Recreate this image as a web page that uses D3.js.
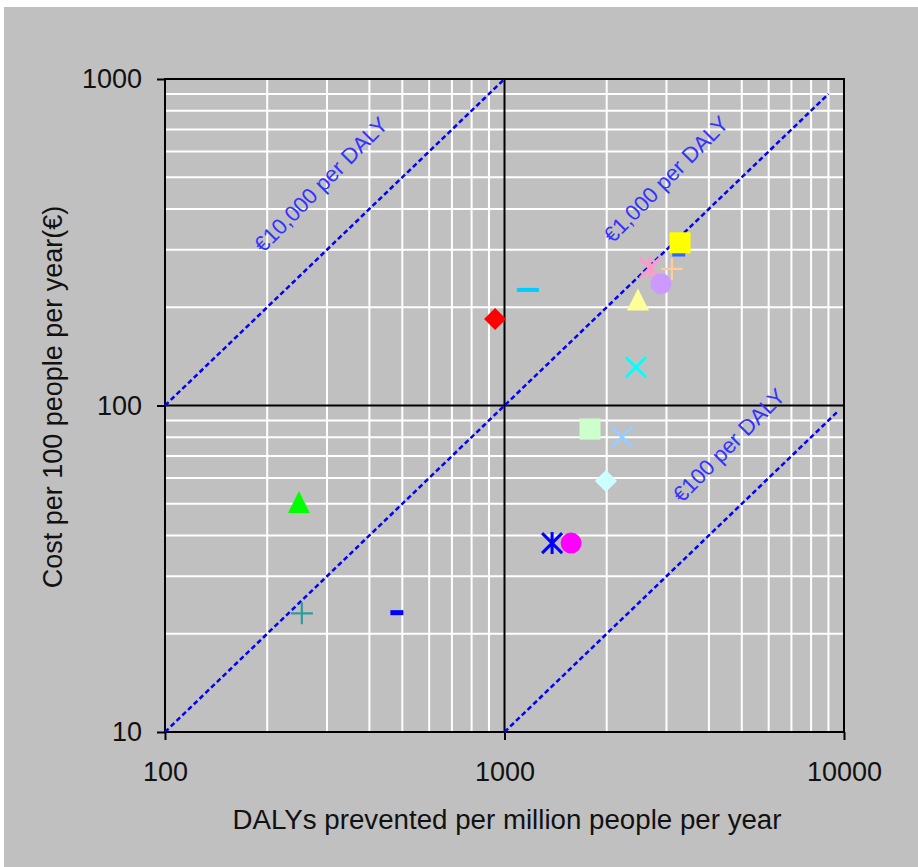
<!DOCTYPE html>
<html>
<head>
<meta charset="utf-8">
<script src="https://cdn.jsdelivr.net/npm/d3@7"></script>
<style>
  html, body { margin: 0; padding: 0; background: #ffffff; }
  svg { display: block; }
  text { font-family: "Liberation Sans", Arial, sans-serif; }
</style>
</head>
<body>
<svg id="chart" width="918" height="867"></svg>
<script>
// ---------- DATA ----------
// DALYs prevented per million people per year
const dalys = [938, 1172, 3260, 3289, 2683, 3112, 2891, 2472, 2438, 1786, 2218, 1990, 1381, 1571, 248, 253, 482];
// Cost per 100 people per year (€)
const costs = [184, 226, 291, 315, 264, 262, 236, 211, 131, 84.7, 80.1, 58.7, 37.9, 37.9, 50.6, 23.1, 23.2];
// Marker shapes and colours (style)
const shapes = ["diamond", "dash", "dashSmall", "square", "star", "plus", "circle", "triangle", "x", "square", "x", "diamond", "star", "circle", "triangle", "plus", "dashSmall"];
const colors = ["#ff0000", "#00ccff", "#3366ff", "#ffff00", "#ff99cc", "#ffcc99", "#cc99ff", "#ffff99", "#00ffff", "#ccffcc", "#99ccff", "#ccffff", "#0000ff", "#ff00ff", "#00ff00", "#339999", "#0000ff"];

// Cost-effectiveness reference lines (€ per DALY)
const refCostPerDaly = [10000, 1000, 100];
const refLabels = ["€10,000 per DALY", "€1,000 per DALY", "€100 per DALY"];
const refStart = [100, 100, 1000];
const refEnd = [1000, 9000, 9600];
const refLabelAt = [288, 2990, 4581];

// Axis ticks
const xTicks = [100, 1000, 10000];
const yTicks = [10, 100, 1000];
const xMinor = [200, 300, 400, 500, 600, 700, 800, 900, 2000, 3000, 4000, 5000, 6000, 7000, 8000, 9000];
const yMinor = [20, 30, 40, 50, 60, 70, 80, 90, 200, 300, 400, 500, 600, 700, 800, 900];
const xMajorGrid = [1000];
const yMajorGrid = [100];

const xTitle = "DALYs prevented per million people per year";
const yTitle = "Cost per 100 people per year(€)";

// ---------- LAYOUT ----------
const svg = d3.select("#chart");
const L = 165, R = 844, T = 79, B = 732;
const x = d3.scaleLog().domain([100, 10000]).range([L, R]);
const y = d3.scaleLog().domain([10, 1000]).range([B, T]);

svg.append("rect").attr("x", 4).attr("y", 7).attr("width", 914).attr("height", 860).attr("fill", "#c0c0c0");

// minor grid
const grid = svg.append("g");
grid.selectAll(".gx").data(xMinor).enter().append("line")
  .attr("x1", d => x(d)).attr("x2", d => x(d)).attr("y1", T).attr("y2", B)
  .attr("stroke", "#ffffff").attr("stroke-width", 2);
grid.selectAll(".gy").data(yMinor).enter().append("line")
  .attr("y1", d => y(d)).attr("y2", d => y(d)).attr("x1", L).attr("x2", R)
  .attr("stroke", "#ffffff").attr("stroke-width", 2);
grid.selectAll(".mx").data(xMajorGrid).enter().append("line")
  .attr("x1", d => x(d)).attr("x2", d => x(d)).attr("y1", T).attr("y2", B)
  .attr("stroke", "#000000").attr("stroke-width", 2);
grid.selectAll(".my").data(yMajorGrid).enter().append("line")
  .attr("y1", d => y(d)).attr("y2", d => y(d)).attr("x1", L).attr("x2", R)
  .attr("stroke", "#000000").attr("stroke-width", 2);

// frame
svg.append("rect").attr("x", L).attr("y", T).attr("width", R - L).attr("height", B - T)
  .attr("fill", "none").attr("stroke", "#000000").attr("stroke-width", 2);

// axes
const yAxis = d3.axisLeft(y).tickValues(yTicks).tickFormat(d3.format("d")).tickSize(8).tickSizeOuter(0).tickPadding(15);
const gy = svg.append("g").attr("transform", `translate(${L},0)`).call(yAxis);
const xAxis = d3.axisBottom(x).tickValues(xTicks).tickFormat(d3.format("d")).tickSize(8).tickSizeOuter(0).tickPadding(22);
const gx = svg.append("g").attr("transform", `translate(0,${B})`).call(xAxis);
[gx, gy].forEach(g => {
  g.select(".domain").remove();
  g.selectAll(".tick line").attr("stroke", "#000").attr("stroke-width", 2);
  g.selectAll(".tick text").attr("fill", "#111").style("font-size", "27px")
    .style("font-family", '"Liberation Sans", Arial, sans-serif');
});

// reference lines
const refG = svg.append("g");
refCostPerDaly.forEach((c, i) => {
  const f = v => v * c / 10000;
  refG.append("line")
    .attr("x1", x(refStart[i])).attr("y1", y(f(refStart[i])))
    .attr("x2", x(refEnd[i])).attr("y2", y(f(refEnd[i])))
    .attr("stroke", "#0000ff").attr("stroke-width", 2.5).attr("stroke-dasharray", "5,3");
  const px = x(refLabelAt[i]), py = y(f(refLabelAt[i])) - 71;
  const ang = Math.atan2(y(f(refEnd[i])) - y(f(refStart[i])), x(refEnd[i]) - x(refStart[i])) * 180 / Math.PI;
  refG.append("text")
    .attr("transform", `translate(${px},${py}) rotate(${ang - 1.5})`)
    .attr("text-anchor", "middle").attr("dominant-baseline", "central")
    .attr("fill", "#3333ff").style("font-size", "22px")
    .text(refLabels[i]);
});

// markers
const ms = 11;
function drawMarker(g, shape, color) {
  switch (shape) {
    case "diamond":
      g.append("path").attr("d", `M0,${-ms}L${ms},0L0,${ms}L${-ms},0Z`).attr("fill", color); break;
    case "square":
      g.append("rect").attr("x", -10.5).attr("y", -10.5).attr("width", 21).attr("height", 21).attr("fill", color); break;
    case "triangle":
      g.append("path").attr("d", `M0,${-ms}L${ms},${ms}L${-ms},${ms}Z`).attr("fill", color); break;
    case "circle":
      g.append("circle").attr("r", 10.5).attr("fill", color); break;
    case "x":
      g.append("path").attr("d", `M-10,-10L10,10M-10,10L10,-10`).attr("stroke", color).attr("stroke-width", 3).attr("fill", "none"); break;
    case "plus":
      g.append("path").attr("d", `M-11,0L11,0M0,-11L0,11`).attr("stroke", color).attr("stroke-width", 2.2).attr("fill", "none"); break;
    case "star":
      g.append("path").attr("d", `M-10,-10L10,10M-10,10L10,-10M0,-11L0,11`).attr("stroke", color).attr("stroke-width", 3).attr("fill", "none"); break;
    case "dash":
      g.append("rect").attr("x", -11).attr("y", -2).attr("width", 22).attr("height", 4).attr("fill", color); break;
    case "dashSmall":
      g.append("rect").attr("x", -6.5).attr("y", -2.5).attr("width", 13).attr("height", 5).attr("fill", color); break;
  }
}
const mg = svg.append("g");
dalys.forEach((d, i) => {
  const g = mg.append("g").attr("transform", `translate(${x(d)},${y(costs[i])})`);
  drawMarker(g, shapes[i], colors[i]);
});

// titles
svg.append("text").attr("x", 507).attr("y", 829).attr("text-anchor", "middle")
  .attr("fill", "#111").style("font-size", "27px")
  .attr("textLength", 549).attr("lengthAdjust", "spacingAndGlyphs")
  .text(xTitle);
svg.append("text").attr("transform", "translate(62,397) rotate(-90)").attr("text-anchor", "middle")
  .attr("fill", "#111").style("font-size", "27px")
  .text(yTitle);
</script>
</body>
</html>
